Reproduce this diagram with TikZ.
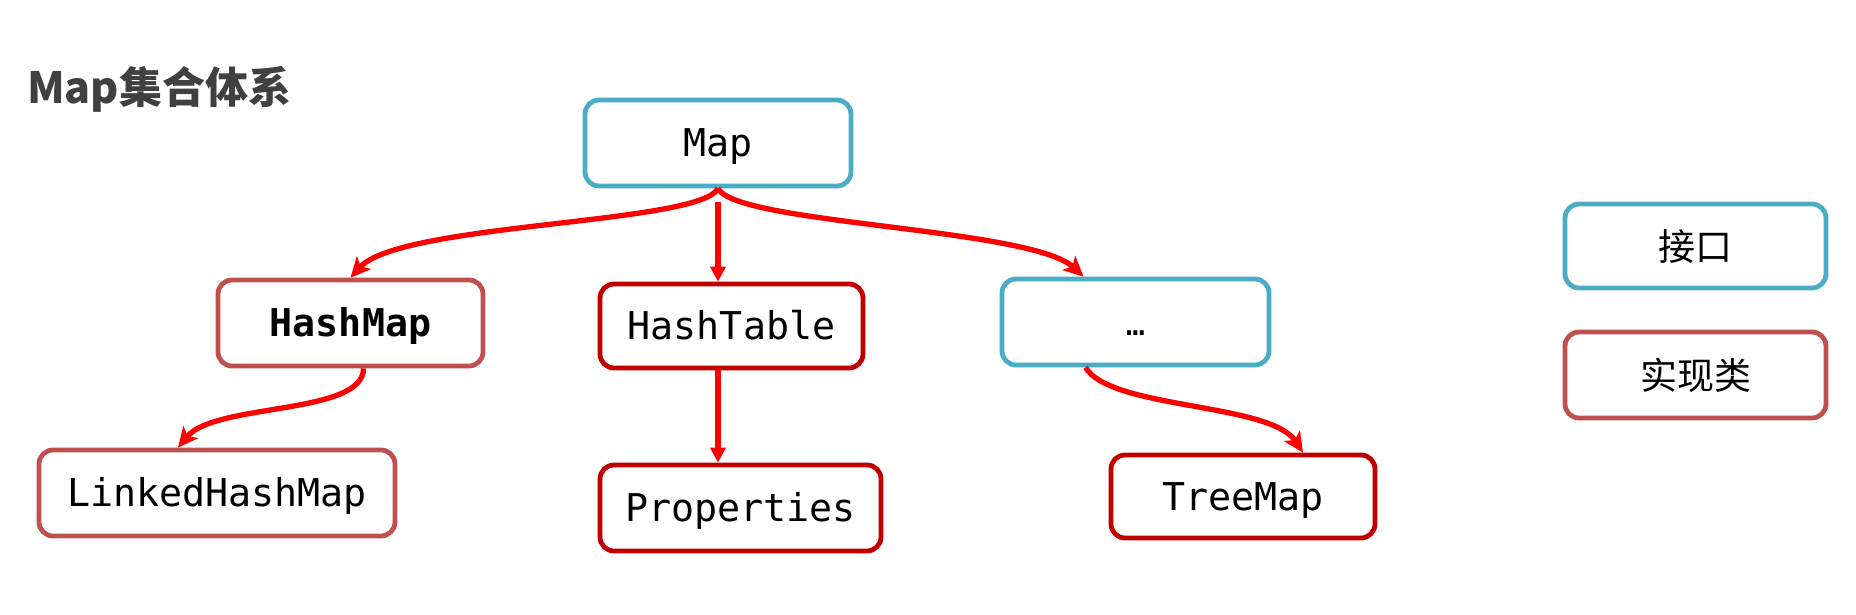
\documentclass[tikz,border=0pt]{standalone}
\usepackage{fontspec}
\setmonofont{DejaVu Sans Mono}
\newfontfamily\cjk{Noto Sans CJK SC}
\usetikzlibrary{arrows.meta}
\definecolor{ifblue}{HTML}{4BACC6}
\definecolor{implred}{HTML}{C0504D}
\definecolor{darkred}{HTML}{C00000}
\definecolor{titlegray}{HTML}{404040}
\begin{document}
\begin{tikzpicture}[x=1pt,y=-1pt,
  box/.style={draw, line width=4.8pt, rounded corners=14pt, fill=white, inner sep=0pt,
    font=\ttfamily\fontsize{38.3}{40}\selectfont, text height=30pt, text depth=3pt},
  ibox/.style={box, draw=ifblue},
  cbox/.style={box, draw=implred},
  dbox/.style={box, draw=darkred},
  legtext/.style={font=\cjk\fontsize{37}{40}\selectfont, text height=32pt, text depth=4pt},
  arr/.style={draw=red, line width=5.3pt, -{Stealth[length=20pt,width=19pt,inset=5pt]}},
  sarr/.style={draw=red, line width=5.3pt, -{Triangle[length=15pt,width=15pt]}},
]
\useasboundingbox[fill=white] (0,0) rectangle (1856,615);

\node[anchor=base west, inner sep=0pt, font=\cjk\bfseries\fontsize{43}{46}\selectfont, text=titlegray] (title) at (27,104) {Map集合体系};

\node[ibox, minimum width=266pt, minimum height=86pt] (Map) at (718,143) {Map};
\node[cbox, minimum width=265pt, minimum height=86pt, font=\ttfamily\bfseries\fontsize{38.3}{40}\selectfont] (HashMap) at (350.5,323) {HashMap};
\node[cbox, minimum width=356pt, minimum height=86pt] (LinkedHashMap) at (217,493) {LinkedHashMap};
\node[dbox, minimum width=263pt, minimum height=84pt] (HashTable) at (731.5,326) {HashTable};
\node[dbox, minimum width=281pt, minimum height=86pt] (Properties) at (740.5,508) {Properties};
\node[ibox, minimum width=267pt, minimum height=86pt, font=\ttfamily\fontsize{32}{36}\selectfont] (dots) at (1135.5,322) {…};
\node[dbox, minimum width=264pt, minimum height=83pt] (TreeMap) at (1243,496.5) {TreeMap};

\node[ibox, legtext, minimum width=261pt, minimum height=84pt] (legif) at (1695.5,246) {接口};
\node[cbox, legtext, minimum width=261pt, minimum height=86pt] (legimpl) at (1695.5,375) {实现类};

\coordinate (dotsin) at ([xshift=-52pt]dots.north);
\coordinate (hmout) at ([xshift=13pt]HashMap.south);
\coordinate (lhmin) at ([xshift=-39pt]LinkedHashMap.north);
\coordinate (dotsout) at ([xshift=-50pt]dots.south);
\coordinate (tmin) at ([xshift=60pt]TreeMap.north);

\draw[arr] (Map.south) .. controls +(-18,36) and +(50,-55) .. (HashMap.north);
\draw[arr] (Map.south) .. controls +(18,36) and +(-53,-49) .. (dotsin);
\draw[sarr] ([yshift=-14pt]Map.south) -- (Map.south |- HashTable.north);
\draw[sarr] (HashTable.south -| Map.south) -- (Properties.north -| Map.south);
\draw[arr] (hmout) .. controls +(0,47) and +(37,-45) .. (lhmin);
\draw[arr] (dotsout) .. controls +(25,42) and +(-33,-50) .. (tmin);
\end{tikzpicture}
\end{document}
